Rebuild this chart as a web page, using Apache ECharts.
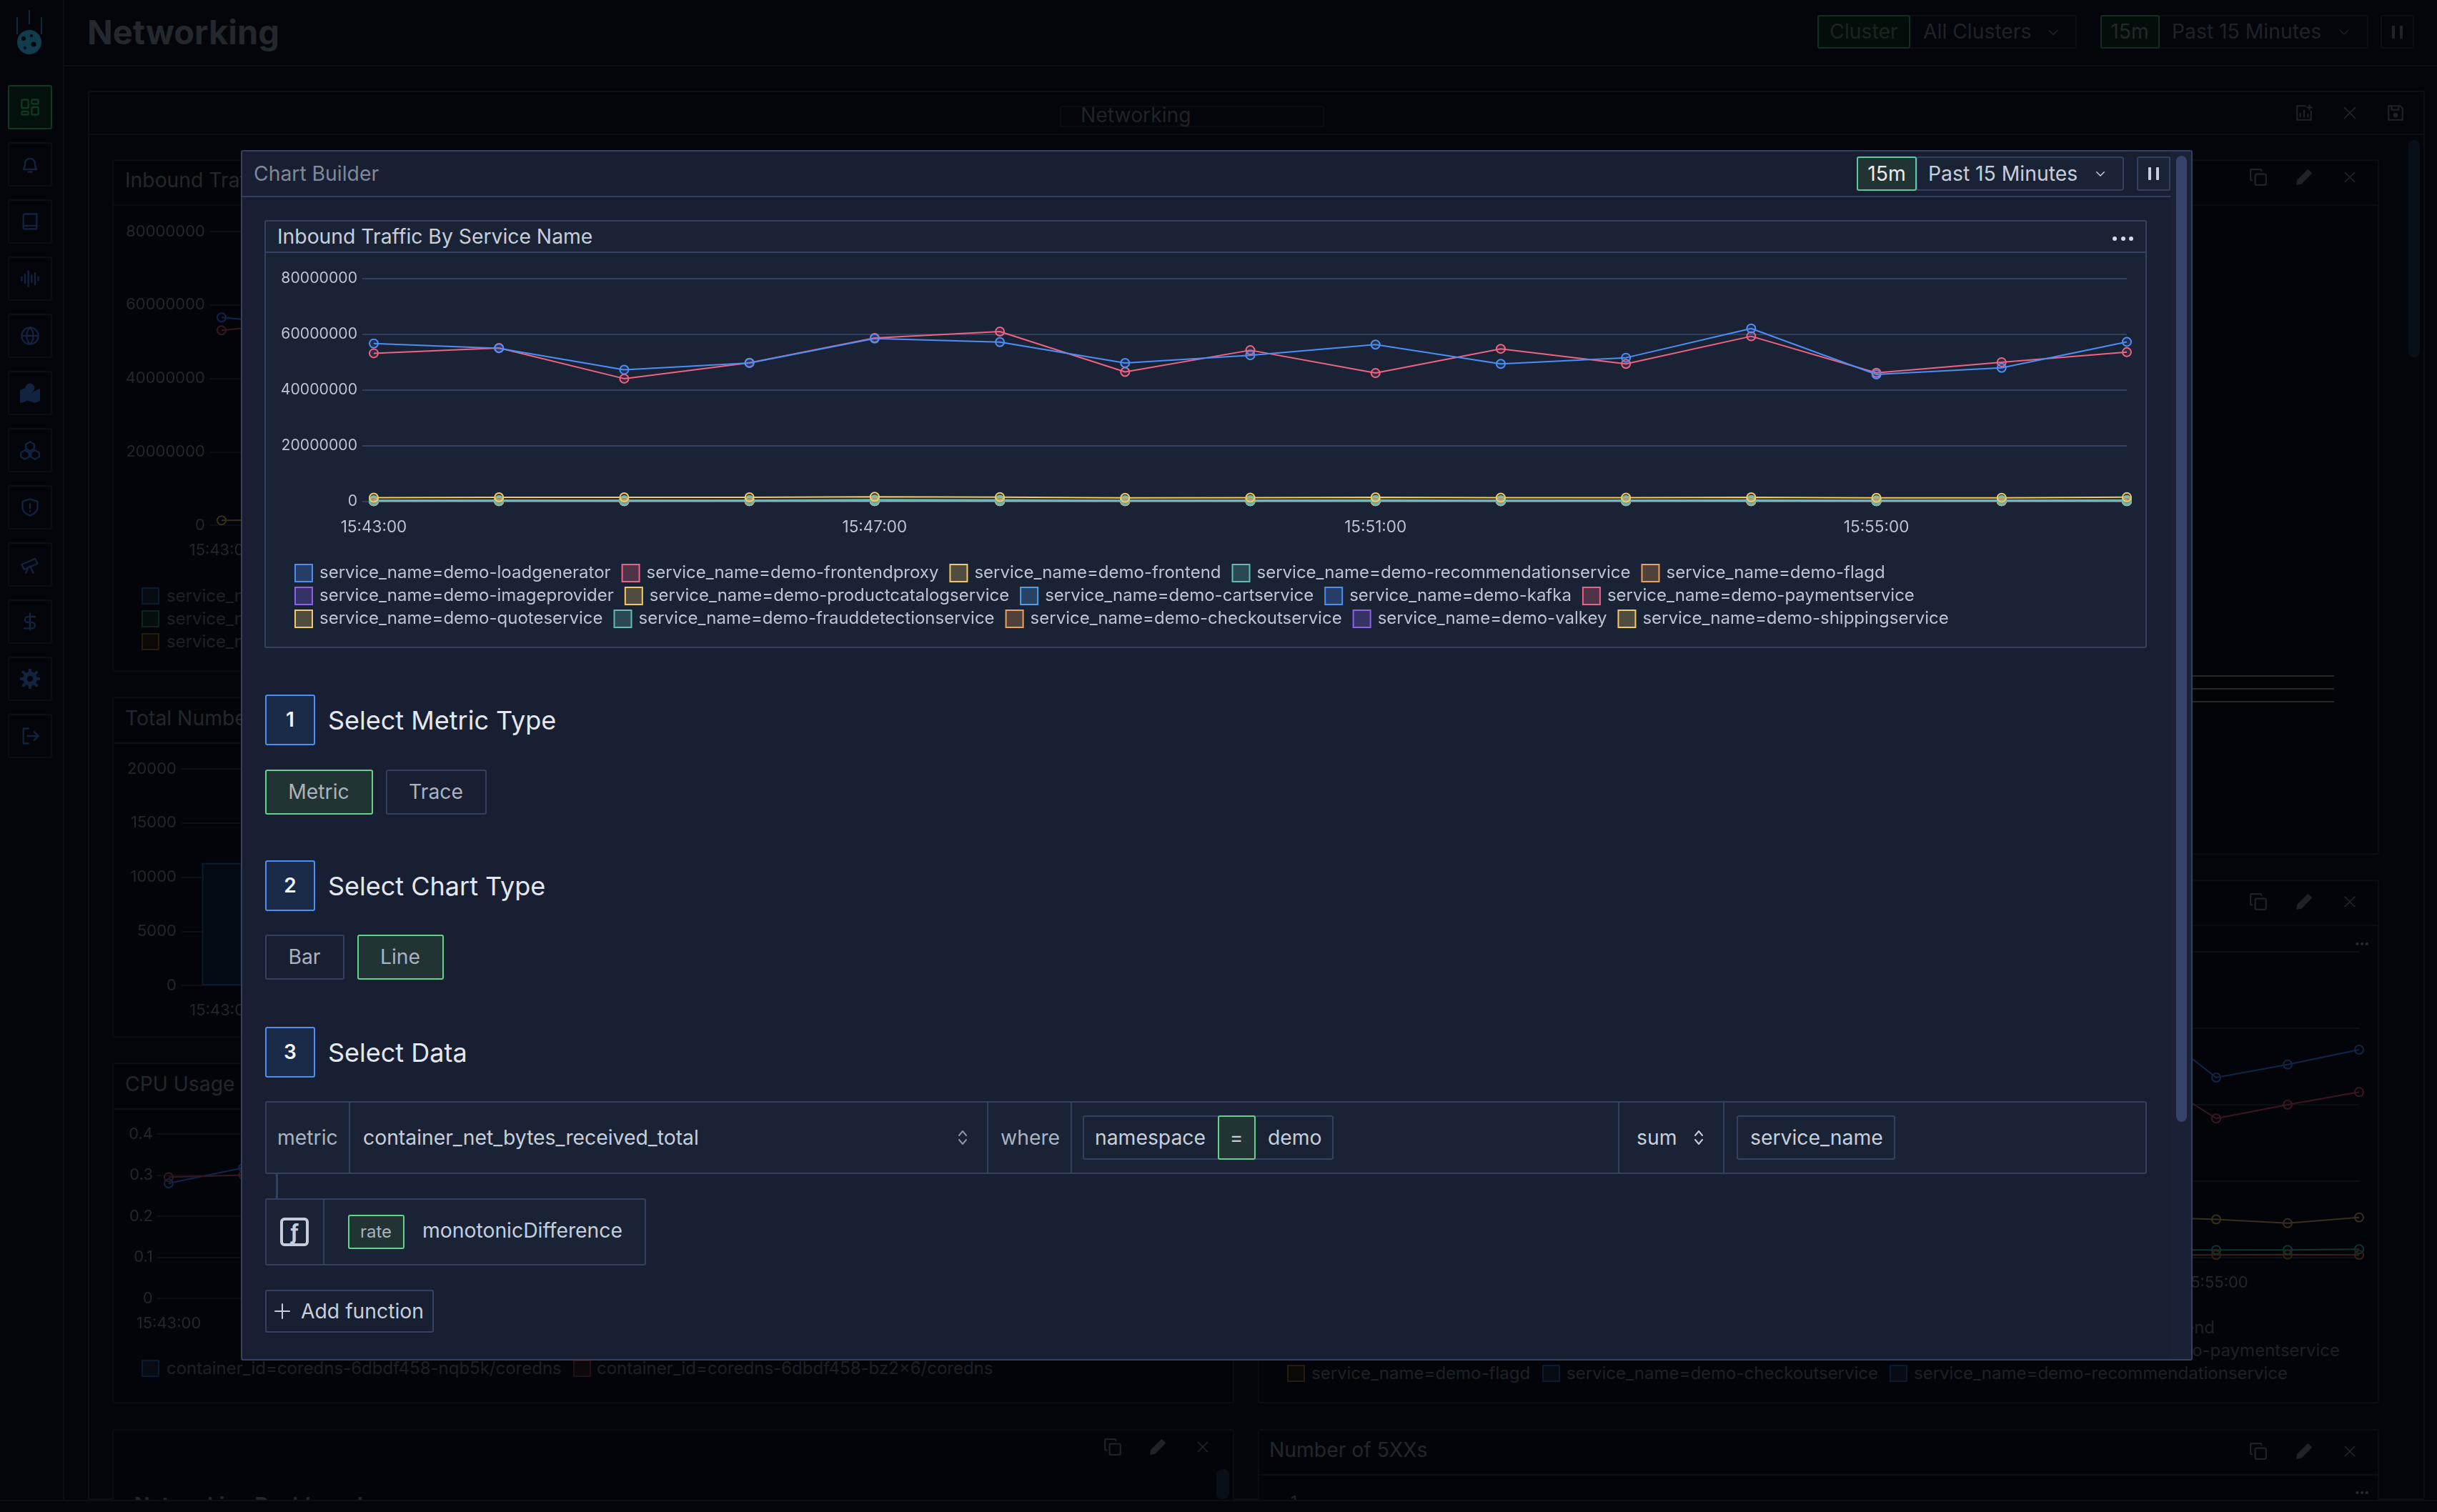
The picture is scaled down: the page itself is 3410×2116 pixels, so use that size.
<!DOCTYPE html>
<html>
<head>
<meta charset="utf-8">
<title>Networking</title>
<script src="https://cdn.jsdelivr.net/npm/echarts@6/dist/echarts.min.js"></script>
<style>
html, body { margin: 0; padding: 0; width: 3410px; height: 2116px; overflow: hidden; background: #03050a; font-family: Inter, "Noto Sans", sans-serif; }
#back, #modal { position: absolute; }
#back { left: 0; top: 0; width: 3410px; height: 2116px; }
#backChart { position: absolute; left: 0; top: 0; width: 3410px; height: 2116px; }
#mainChart { position: absolute; }
.abs { position: absolute; box-sizing: border-box; }
.txt { position: absolute; white-space: nowrap; transform: translateY(-50%); line-height: 1.2; }
.abs svg, .ico svg { display: block; width: 100%; height: 100%; }
.ico { position: absolute; }
</style>
</head>
<body>
<div id="back"></div>
<div id="backChart"></div>
<div id="front"></div>
<script>
// Chart values
const timeLabels = ['15:43:00', '15:44:00', '15:45:00', '15:46:00', '15:47:00', '15:48:00', '15:49:00', '15:50:00',
    '15:51:00', '15:52:00', '15:53:00', '15:54:00', '15:55:00', '15:56:00', '15:57:00'];

const loadgenerator = [56600000, 54900000, 47200000, 49600000, 58400000, 57100000, 49600000, 52400000, 56200000, 49300000, 51500000, 62000000, 45500000, 47900000, 57200000];
const frontendproxy = [53100000, 55000000, 44000000, 49700000, 58600000, 60900000, 46400000, 54200000, 46000000, 54700000, 49300000, 59200000, 46100000, 49900000, 53500000];
const frontend = [1300000, 1400000, 1400000, 1400000, 1600000, 1500000, 1200000, 1300000, 1400000, 1300000, 1300000, 1400000, 1200000, 1250000, 1450000];
const recommendationservice = [350000, 400000, 350000, 400000, 600000, 500000, 350000, 400000, 450000, 350000, 400000, 450000, 350000, 400000, 450000];
const flagd = [60000, 70000, 60000, 70000, 60000, 70000, 60000, 70000, 60000, 60000, 70000, 60000, 60000, 60000, 70000];
const imageprovider = [40000, 50000, 40000, 40000, 50000, 40000, 40000, 50000, 40000, 40000, 50000, 40000, 40000, 40000, 50000];
const productcatalogservice = [200000, 220000, 210000, 230000, 260000, 240000, 190000, 200000, 220000, 200000, 210000, 240000, 190000, 200000, 220000];
const cartservice = [80000, 90000, 80000, 90000, 100000, 90000, 80000, 80000, 90000, 80000, 90000, 90000, 80000, 80000, 90000];
const kafka = [120000, 130000, 120000, 140000, 150000, 140000, 110000, 120000, 130000, 120000, 130000, 140000, 120000, 120000, 130000];
const paymentservice = [70000, 80000, 70000, 80000, 90000, 80000, 70000, 80000, 80000, 70000, 80000, 80000, 70000, 70000, 80000];
const quoteservice = [150000, 170000, 150000, 170000, 200000, 180000, 140000, 160000, 170000, 150000, 160000, 170000, 140000, 150000, 160000];
const frauddetectionservice = [250000, 270000, 250000, 280000, 330000, 310000, 250000, 270000, 280000, 260000, 270000, 290000, 250000, 260000, 270000];
const checkoutservice = [90000, 100000, 90000, 100000, 120000, 110000, 90000, 90000, 100000, 90000, 100000, 110000, 90000, 90000, 100000];
const valkey = [50000, 60000, 50000, 60000, 70000, 60000, 50000, 60000, 60000, 50000, 60000, 60000, 50000, 50000, 60000];
const shippingservice = [100000, 110000, 100000, 120000, 140000, 130000, 100000, 110000, 120000, 100000, 110000, 120000, 100000, 110000, 110000];

// Legend rows, as they wrap in the reference
const legendRow1 = ['loadgenerator', 'frontendproxy', 'frontend', 'recommendationservice', 'flagd'];
const legendRow2 = ['imageprovider', 'productcatalogservice', 'cartservice', 'kafka', 'paymentservice'];
const legendRow3 = ['quoteservice', 'frauddetectionservice', 'checkoutservice', 'valkey', 'shippingservice'];

// Panels dimmed behind the modal (only the visible part could be read)
const totalBars = [11300];
const cpuBlue = [0.28, 0.318];
const cpuPink = [0.295, 0.3];
const rightBlue = [null, null, null, null, null, null, null, null, null, null, null, 61700000, 47100000, 50500000, 54400000];
const rightPink = [null, null, null, null, null, null, null, null, null, null, null, 48200000, 36400000, 40000000, 43300000];
const rightYellow = [null, null, null, null, null, null, null, null, null, null, null, 10600000, 10000000, 9000000, 10500000];
const rightTeal = [null, null, null, null, null, null, null, null, null, null, null, 2000000, 2000000, 2000000, 2200000];
const rightOrange = [null, null, null, null, null, null, null, null, null, null, null, 700000, 700000, 800000, 700000];

const BLUE = '#4d8ef5', PINK = '#ee6480', YELLOW = '#f6c860', TEAL = '#5fbdb2', ORANGE = '#f0a050', PURPLE = '#8b62f0', SKY = '#4f9fe8';

// Series in draw order, later ones end up on top
const services = [
    ['frontendproxy', frontendproxy, PINK],
    ['loadgenerator', loadgenerator, BLUE],
    ['imageprovider', imageprovider, PURPLE],
    ['valkey', valkey, PURPLE],
    ['paymentservice', paymentservice, PINK],
    ['kafka', kafka, BLUE],
    ['cartservice', cartservice, SKY],
    ['shippingservice', shippingservice, YELLOW],
    ['quoteservice', quoteservice, YELLOW],
    ['productcatalogservice', productcatalogservice, YELLOW],
    ['flagd', flagd, ORANGE],
    ['checkoutservice', checkoutservice, ORANGE],
    ['frauddetectionservice', frauddetectionservice, TEAL],
    ['recommendationservice', recommendationservice, TEAL],
    ['frontend', frontend, YELLOW]
];

const BORDER = '#33405f';
const DIM_TEXT = '#23262d';
const DIM_LINE = '#0b0e17';
const BODY_SIZE = 28.3;

function hexToRgba(hex, alpha) {
    const n = parseInt(hex.slice(1), 16);
    return `rgba(${n >> 16}, ${(n >> 8) & 255}, ${n & 255}, ${alpha})`;
}

// Small DOM helpers, page coordinates
function box(parent, x0, y0, x1, y1, bg, border, radius, width) {
    const el = document.createElement('div');
    el.className = 'abs';
    el.style.cssText += `left:${x0}px;top:${y0}px;width:${x1 - x0}px;height:${y1 - y0}px;`;
    if (bg) el.style.background = bg;
    if (border) el.style.border = `${width || 2}px solid ${border}`;
    el.style.borderRadius = (radius === undefined ? 3 : radius) + 'px';
    parent.appendChild(el);
    return el;
}

function label(parent, text, x, cy, size, color, weight, center) {
    const el = document.createElement('div');
    el.className = 'txt';
    el.textContent = text;
    el.style.cssText += `left:${x}px;top:${cy}px;font-size:${size}px;color:${color};font-weight:${weight || 400};`;
    if (center) el.style.transform = 'translate(-50%, -50%)';
    parent.appendChild(el);
    return el;
}

function rightLabel(parent, text, x, cy, size, color) {
    const el = label(parent, text, 0, cy, size, color);
    el.style.left = 'auto';
    el.style.right = (3410 - x) + 'px';
    return el;
}

function icon(parent, name, cx, cy, size, color) {
    const el = document.createElement('div');
    el.className = 'ico';
    el.style.cssText += `left:${cx - size / 2}px;top:${cy - size / 2}px;width:${size}px;height:${size}px;color:${color};`;
    el.innerHTML = `<svg viewBox="0 0 24 24" fill="none" stroke="currentColor" stroke-width="2" stroke-linecap="round" stroke-linejoin="round">${ICONS[name]}</svg>`;
    parent.appendChild(el);
}

const ICONS = {
    dash: '<rect x="2" y="3" width="8" height="10" rx="1.5"/><rect x="14" y="3" width="8" height="5" rx="1.5"/><rect x="2" y="17" width="8" height="4" rx="1.5"/><rect x="14" y="12" width="8" height="9" rx="1.5"/>',
    bell: '<path d="M4 18c2-2 2-4 2-7a6 6 0 0 1 12 0c0 3 0 5 2 7z"/><path d="M10 21h4"/>',
    book: '<path d="M4 19V5a2 2 0 0 1 2-2h14v18H6a2 2 0 0 1-2-2zm0 0a2 2 0 0 1 2-2h14"/>',
    wave: '<path d="M2 10v4M6 7v10M10 3v18M14 8v8M18 5v14M22 10v4"/>',
    globe: '<circle cx="12" cy="12" r="10"/><path d="M2 12h20M12 2c3 3 4 6 4 10s-1 7-4 10c-3-3-4-6-4-10s1-7 4-10z"/>',
    map: '<path d="M1 9l6-2v14l-6 2zM9 9l6 3v10l-6-2zM17 11l6-3v13l-6 2z" fill="currentColor"/><circle cx="12" cy="6" r="4.5" fill="currentColor"/>',
    cubes: '<path d="M12 2l5 3v5l-5 3-5-3V5zM6 12l5 3v5l-5 3-5-3v-5zM18 12l5 3v5l-5 3-5-3v-5z"/>',
    shield: '<path d="M12 2l9 3v7c0 5-4 8-9 10-5-2-9-5-9-10V5z"/><path d="M12 8v5M12 16.500v.5"/>',
    scope: '<path d="M2 12l16-7 3 6-16 7z"/><path d="M10 15l-3 7M12 14l4 8"/>',
    dollar: '<path d="M12 2v20M18 6H9.500a3.500 3.500 0 0 0 0 7h5a3.500 3.500 0 0 1 0 7H5"/>',
    gear: '<circle cx="12" cy="12" r="6" fill="none" stroke-width="5"/><path d="M12 1v4M12 19v4M1 12h4M19 12h4M4 4l3 3M17 17l3 3M20 4l-3 3M7 17l-3 3" stroke-width="3.500"/>',
    logout: '<path d="M10 3H4v18h6M9 12h13M17 7l5 5-5 5"/>',
    down: '<path d="M5 9l7 7 7-7"/>',
    updown: '<path d="M7 9l5-6 5 6M7 15l5 6 5-6"/>',
    plus: '<path d="M12 2v20M2 12h20"/>',
    close: '<path d="M4 4l16 16M20 4L4 20"/>',
    copy: '<rect x="8" y="8" width="14" height="14" rx="2"/><path d="M4 16H3a1 1 0 0 1-1-1V3a1 1 0 0 1 1-1h12a1 1 0 0 1 1 1v1"/>',
    pen: '<path d="M3 21l1-5L17 3l4 4L8 20z" fill="currentColor"/>',
    save: '<path d="M3 3h15l3 3v15H3z"/><path d="M7 3v5h9V3"/><circle cx="12" cy="15" r="2" fill="currentColor"/>',
    addChart: '<path d="M14 3H3v18h18V10M7 17v-4M12 17V9M17 17v-3M19 2v6M16 5h6"/>'
};

// Everything behind the modal
function drawBackground() {
    const back = document.getElementById('back');

    // sidebar
    box(back, 88, 0, 90, 2116, DIM_LINE, null, 0);
    box(back, 90, 91, 3410, 93, DIM_LINE, null, 0);
    const sideIcons = ['dash', 'bell', 'book', 'wave', 'globe', 'map', 'cubes', 'shield', 'scope', 'dollar', 'gear', 'logout'];
    sideIcons.forEach((name, i) => {
        const y = 119 + i * 80;
        box(back, 11, y, 73, y + 62, i === 0 ? '#04100c' : null, i === 0 ? '#0e3a22' : '#0a0d16', 3);
        icon(back, name, 42, y + 31, 28, i === 0 ? '#0f3a22' : '#11233f');
    });

    // logo
    const logo = document.createElement('div');
    logo.className = 'ico';
    logo.style.cssText += 'left:20px;top:12px;width:44px;height:66px;';
    logo.innerHTML = '<svg viewBox="0 0 44 66"><path d="M4 12v24M21 2v20M38 12v24" stroke="#10283c" stroke-width="2"/><circle cx="21" cy="47" r="17" fill="#113c4c"/><circle cx="13" cy="42" r="3" fill="#03050a"/><circle cx="24" cy="38" r="2" fill="#03050a"/><circle cx="27" cy="50" r="3.5" fill="#03050a"/><circle cx="15" cy="55" r="2" fill="#03050a"/></svg>';
    back.appendChild(logo);

    label(back, 'Networking', 122, 45, 47, '#23272e', 700);

    // header controls
    box(back, 2543, 21, 2906, 68, null, '#0b0e17');
    box(back, 2543, 21, 2673, 68, '#040d0a', '#0e3020');
    label(back, 'Cluster', 2608, 45, BODY_SIZE, '#18261f', 400, true);
    label(back, 'All Clusters', 2691, 45, BODY_SIZE, '#1f2228');
    icon(back, 'down', 2873, 45, 20, '#1f2228');
    box(back, 2939, 21, 3314, 68, null, '#0b0e17');
    box(back, 2939, 21, 3022, 68, '#040d0a', '#0e3020');
    label(back, '15m', 2980, 45, BODY_SIZE, '#24272d', 400, true);
    label(back, 'Past 15 Minutes', 3039, 45, BODY_SIZE, '#1f2228');
    icon(back, 'down', 3280, 45, 18, '#1f2228');
    box(back, 3331, 21, 3378, 68, null, '#0b0e17');
    box(back, 3347, 36, 3351, 54, '#20232a', null, 1);
    box(back, 3358, 36, 3362, 54, '#20232a', null, 1);

    // main panel
    box(back, 123, 127, 3393, 2099, '#03050a', DIM_LINE);
    box(back, 123, 187, 3393, 189, DIM_LINE, null, 0);
    box(back, 1483, 148, 1853, 178, null, '#0a0d14');
    label(back, 'Networking', 1512, 162, BODY_SIZE, '#1f2228');
    icon(back, 'addChart', 3224, 158, 26, '#1f2229');
    icon(back, 'close', 3288, 158, 22, '#1f2229');
    icon(back, 'save', 3352, 158, 26, '#1f2229');
    box(back, 3370, 196, 3386, 500, '#0a0e18', null, 8);
    box(back, 3307, 278, 3321, 340, '#0a0e18', null, 7);

    // sub panels
    const panels = [
        [157, 223, 1727, 940, 286],
        [157, 975, 1727, 1452, 1039],
        [157, 1487, 1727, 1964, 1551],
        [157, 2000, 1727, 2112, null],
        [1760, 223, 3329, 1196, 286],
        [1760, 1231, 3329, 1964, 1294],
        [1760, 2000, 3329, 2112, 2063]
    ];
    panels.forEach(p => {
        box(back, p[0], p[1], p[2], p[3], '#03040a', '#090c14');
        if (p[4]) box(back, p[0], p[4], p[2], p[4] + 2, '#090c14', null, 0);
    });

    label(back, 'Inbound Traffic By Service Name', 175, 253, BODY_SIZE, DIM_TEXT);
    label(back, 'Total Number of Requests', 175, 1006, BODY_SIZE, DIM_TEXT);
    label(back, 'CPU Usage', 175, 1518, BODY_SIZE, DIM_TEXT);
    label(back, 'Networking Dashboard', 188, 2107, BODY_SIZE, DIM_TEXT, 700);
    label(back, 'Number of 5XXs', 1776, 2030, BODY_SIZE, DIM_TEXT);
    label(back, '1', 1806, 2101, 22, DIM_TEXT);

    [[3160, 248], [3224, 248], [3288, 248], [3160, 1262], [3224, 1262], [3288, 1262], [3160, 2031], [3224, 2031], [3288, 2031], [1557, 2025], [1620, 2025], [1683, 2025]].forEach((p, i) => {
        icon(back, ['copy', 'pen', 'close'][i % 3], p[0], p[1], i % 3 === 2 ? 20 : 26, '#1f2229');
    });
    box(back, 1702, 2056, 1720, 2098, '#0a0e18', null, 8);
    label(back, '•••', 3305, 1320, 12, '#2a2d33', 400, true);
    label(back, '•••', 3305, 2088, 12, '#2a2d33', 400, true);

    // skeleton lines right of the modal
    [946, 964, 982].forEach(y => box(back, 3060, y - 1, 3266, y + 1, '#29292b', null, 0));

    // dim legends
    [[834, '#0b1a30', '#060b14', 'service_name=demo-loadgenerator'], [866, '#0c2422', '#050d0e', 'service_name=demo-recommendationservice'], [898, '#261c0d', '#0c0a07', 'service_name=demo-flagd']].forEach(row => {
        box(back, 198, row[0] - 12, 223, row[0] + 12, row[2], row[1], 1);
        label(back, row[3], 233, row[0], 24, '#1d2027');
    });
    box(back, 198, 1903, 223, 1927, '#060b14', '#0b1a30', 1);
    label(back, 'container_id=coredns-6dbdf458-nqb5k/coredns', 233, 1915, 24, '#1d2027');
    box(back, 802, 1903, 827, 1927, '#0c070a', '#241016', 1);
    label(back, 'container_id=coredns-6dbdf458-bz2×6/coredns', 835, 1915, 24, '#1d2027');

    rightLabel(back, 'service_name=demo-frontend', 3099, 1858, 24, '#1d2027');
    rightLabel(back, 'service_name=demo-paymentservice', 3274, 1890, 24, '#1d2027');
    [[1801, '#261c0d', '#0c0a07', 'service_name=demo-flagd'], [2158, '#0b1a30', '#060b14', 'service_name=demo-checkoutservice'], [2644, '#0b1a30', '#060b14', 'service_name=demo-recommendationservice']].forEach(item => {
        box(back, item[0], 1910, item[0] + 25, 1934, item[2], item[1], 1);
        label(back, item[3], item[0] + 34, 1922, 24, '#1d2027');
    });

    // the window ends here and cuts the last row of panels off
    const bottom = box(document.getElementById('front'), 0, 2099, 3410, 2116, '#03050a', null, 0);
    bottom.style.borderTop = '2px solid ' + DIM_LINE;
}

// Dim charts of the dashboard under the modal, same library scales as the main one
function drawBackCharts() {
    const chart = echarts.init(document.getElementById('backChart'));
    const dimFont = { color: DIM_TEXT, fontSize: 22, fontFamily: 'Inter' };
    const line = (name, data, color, x) => ({
        name, type: 'line', data, xAxisIndex: x, yAxisIndex: x, showAllSymbol: true, symbol: 'circle', symbolSize: 12,
        connectNulls: false, animation: false, lineStyle: { color, width: 2 },
        itemStyle: { color: 'rgba(0,0,0,0)', borderColor: color, borderWidth: 2 }
    });
    const valueAxis = (index, max, interval, tick, margin) => ({
        type: 'value', gridIndex: index, min: 0, max, interval,
        axisLine: { show: false }, axisTick: { show: tick > 0, length: tick, lineStyle: { color: DIM_LINE, width: 2 } },
        splitLine: { lineStyle: { color: DIM_LINE, width: 2 } },
        axisLabel: { ...dimFont, margin, formatter: v => String(v) }
    });
    const timeAxis = (index, labels, gap, interval) => ({
        type: 'category', gridIndex: index, data: labels, boundaryGap: gap,
        axisLine: { show: false }, axisTick: { show: false },
        axisLabel: { ...dimFont, margin: 24, interval }
    });
    chart.setOption({
        animation: false,
        grid: [
            { left: 310, top: 324, width: 1380, height: 411 },
            { left: 254, top: 1076, width: 1472, height: 303 },
            { left: 236, top: 1587, width: 1464, height: 230 },
            { left: 1901, top: 1332, width: 1400, height: 428 }
        ],
        xAxis: [
            timeAxis(0, timeLabels, false, 3),
            timeAxis(1, timeLabels.slice(0, 13), true, 3),
            timeAxis(2, timeLabels, false, 3),
            timeAxis(3, timeLabels, false, 3)
        ],
        yAxis: [
            valueAxis(0, 80000000, 20000000, 16, 23),
            valueAxis(1, 20000, 5000, 0, 7),
            valueAxis(2, 0.4, 0.1, 16, 22),
            valueAxis(3, 80000000, 20000000, 0, 23)
        ],
        series: [
            line('frontendproxy', frontendproxy, '#3a1720', 0),
            line('loadgenerator', loadgenerator, '#10254a', 0),
            line('frontend', frontend, '#37301a', 0),
            {
                type: 'bar', data: totalBars, xAxisIndex: 1, yAxisIndex: 1, barWidth: 56, animation: false,
                itemStyle: { color: '#040a14', borderColor: '#0c1a30', borderWidth: 2 }
            },
            line('cpuBlue', cpuBlue, '#10254a', 2),
            line('cpuPink', cpuPink, '#3a1720', 2),
            line('rightBlue', rightBlue, '#10254a', 3),
            line('rightPink', rightPink, '#3a1720', 3),
            line('rightYellow', rightYellow, '#37301a', 3),
            line('rightTeal', rightTeal, '#12332f', 3),
            line('rightOrange', rightOrange, '#332313', 3)
        ]
    });
}

// Modal with the chart builder form
function drawModal() {
    const front = document.getElementById('front');
    const LIGHT = '#c6cedb', MID = '#aab2c0', TITLE = '#e4e8ee', CELL = '#1a2336', GREEN = '#62d48a', GREEN_BG = '#213333';

    box(front, 337, 210, 3068, 1904, '#181f32', BORDER, 3);
    box(front, 3037, 212, 3066, 1902, '#1a2136', null, 0);
    box(front, 3045, 218, 3060, 1570, '#35436a', null, 8);
    box(front, 339, 274, 3037, 276, BORDER, null, 0);
    label(front, 'Chart Builder', 355, 244, BODY_SIZE, '#7f8899');

    box(front, 2681, 219, 2972, 267, CELL, BORDER, 4);
    box(front, 2598, 219, 2682, 267, GREEN_BG, '#5ec9a0', 3);
    label(front, '15m', 2640, 244, BODY_SIZE, '#e8ecf1', 400, true);
    label(front, 'Past 15 Minutes', 2698, 244, BODY_SIZE, LIGHT);
    icon(front, 'down', 2939, 243, 18, LIGHT);
    box(front, 2990, 219, 3037, 267, CELL, BORDER, 3);
    box(front, 3006, 234, 3010, 252, LIGHT, null, 1);
    box(front, 3017, 234, 3021, 252, LIGHT, null, 1);

    // chart card
    box(front, 370, 308, 3004, 907, CELL, BORDER, 3);
    box(front, 372, 352, 3002, 354, BORDER, null, 0);
    label(front, 'Inbound Traffic By Service Name', 388, 332, BODY_SIZE, LIGHT);
    [2959, 2971, 2982].forEach(x => box(front, x - 3, 331, x + 3, 337, '#d5dae3', null, 3));

    const chartDiv = box(front, 372, 354, 3002, 905, null, null, 0);
    chartDiv.id = 'mainChart';

    // steps
    [[972, 1043, '1', 'Select Metric Type'], [1204, 1275, '2', 'Select Chart Type'], [1437, 1508, '3', 'Select Data']].forEach(s => {
        box(front, 371, s[0], 441, s[1], '#1a2b4a', BLUE, 3);
        label(front, s[2], 406, (s[0] + s[1]) / 2, 28, '#f0f3f7', 600, true);
        label(front, s[3], 459, (s[0] + s[1]) / 2 + 1, 36, TITLE);
    });

    box(front, 371, 1077, 522, 1140, GREEN_BG, GREEN, 3);
    label(front, 'Metric', 446, 1109, BODY_SIZE, MID, 400, true);
    box(front, 540, 1077, 681, 1140, null, BORDER, 3);
    label(front, 'Trace', 610, 1109, BODY_SIZE, MID, 400, true);
    box(front, 371, 1308, 482, 1371, null, BORDER, 3);
    label(front, 'Bar', 426, 1340, BODY_SIZE, MID, 400, true);
    box(front, 500, 1308, 621, 1371, GREEN_BG, GREEN, 3);
    label(front, 'Line', 560, 1340, BODY_SIZE, MID, 400, true);

    // query row
    box(front, 371, 1541, 3004, 1643, CELL, BORDER, 3);
    [489, 1382, 1499, 2265, 2412].forEach(x => box(front, x - 1, 1541, x + 1, 1643, BORDER, null, 0));
    label(front, 'metric', 388, 1593, BODY_SIZE, MID);
    label(front, 'container_net_bytes_received_total', 508, 1593, BODY_SIZE, LIGHT);
    icon(front, 'updown', 1347, 1592, 24, '#8a93a3');
    label(front, 'where', 1400, 1593, BODY_SIZE, MID);
    box(front, 1515, 1561, 1866, 1623, null, BORDER, 3);
    label(front, 'namespace', 1532, 1593, BODY_SIZE, LIGHT);
    box(front, 1704, 1561, 1757, 1623, GREEN_BG, GREEN, 3);
    label(front, '=', 1730, 1593, BODY_SIZE, LIGHT, 400, true);
    label(front, 'demo', 1774, 1593, BODY_SIZE, LIGHT);
    label(front, 'sum', 2290, 1593, BODY_SIZE, LIGHT);
    icon(front, 'updown', 2377, 1592, 24, LIGHT);
    box(front, 2430, 1561, 2652, 1623, null, BORDER, 3);
    label(front, 'service_name', 2449, 1593, BODY_SIZE, LIGHT);

    // function row
    box(front, 386, 1643, 389, 1677, BORDER, null, 0);
    box(front, 371, 1677, 904, 1771, CELL, BORDER, 3);
    box(front, 452, 1677, 454, 1771, BORDER, null, 0);
    box(front, 392, 1704, 432, 1744, null, '#c6cedb', 6, 4);
    label(front, 'ƒ', 412, 1724, 30, '#c6cedb', 700, true);
    box(front, 487, 1700, 566, 1748, GREEN_BG, GREEN, 3);
    label(front, 'rate', 526, 1724, 24, MID, 400, true);
    label(front, 'monotonicDifference', 591, 1723, BODY_SIZE, LIGHT);

    box(front, 371, 1805, 607, 1865, null, BORDER, 3);
    icon(front, 'plus', 395, 1835, 24, LIGHT);
    label(front, 'Add function', 421, 1836, BODY_SIZE, LIGHT);
}

function drawMainChart() {
    const chart = echarts.init(document.getElementById('mainChart'));
    const colorOf = {};
    services.forEach(s => { colorOf[s[0]] = s[2]; });
    const seriesName = short => 'service_name=demo-' + short;

    const legendRow = (row, top) => ({
        top,
        left: 35,
        itemWidth: 24,
        itemHeight: 24,
        itemGap: 15,
        icon: 'rect',
        selectedMode: false,
        textStyle: { color: '#bcc4d1', fontSize: 24, fontFamily: 'Inter', padding: [0, 0, 0, 5] },
        data: row.map(short => ({
            name: seriesName(short),
            itemStyle: { color: hexToRgba(colorOf[short], 0.25), borderColor: colorOf[short], borderWidth: 2 }
        }))
    });

    chart.setOption({
        animation: false,
        grid: { left: 151, top: 35.5, width: 2453, height: 312 },
        legend: [legendRow(legendRow1, 430), legendRow(legendRow2, 462), legendRow(legendRow3, 494)],
        xAxis: {
            type: 'category',
            data: timeLabels,
            boundaryGap: false,
            axisLine: { show: false },
            axisTick: { show: false },
            axisLabel: { color: '#bcc4d1', fontSize: 22.5, fontFamily: 'Inter', margin: 25, interval: 3 }
        },
        yAxis: {
            type: 'value',
            min: 0,
            max: 80000000,
            interval: 20000000,
            axisLine: { show: false },
            axisTick: { show: true, length: 16, lineStyle: { color: BORDER, width: 2 } },
            splitLine: { lineStyle: { color: BORDER, width: 2 } },
            axisLabel: { color: '#bcc4d1', fontSize: 21.2, fontFamily: 'Inter', margin: 23, padding: [2, 0, 0, 0], formatter: v => String(v) }
        },
        series: services.map(s => ({
            name: seriesName(s[0]),
            type: 'line',
            data: s[1],
            showAllSymbol: true,
            symbol: 'circle',
            symbolSize: 12,
            lineStyle: { color: s[2], width: 2 },
            itemStyle: { color: hexToRgba(s[2], 0.12), borderColor: s[2], borderWidth: 2 }
        }))
    });
}

drawModal();
drawBackground();
drawBackCharts();
drawMainChart();
</script>
</body>
</html>
